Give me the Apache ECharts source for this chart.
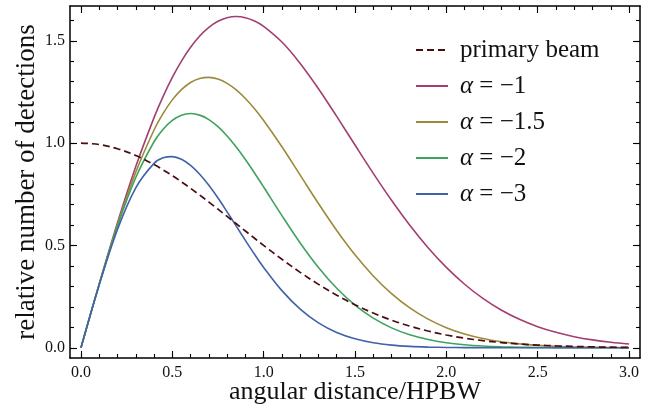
<!DOCTYPE html>
<html><head><meta charset="utf-8">
<script src="https://cdn.jsdelivr.net/npm/echarts@6/dist/echarts.min.js"></script>
<style>html,body{margin:0;padding:0;background:#fff}#c{width:656px;height:409px}</style>
</head><body><div id="c"></div>
<script>
const xs = [0,0.1,0.2,0.3,0.4,0.45,0.5,0.55,0.6,0.65,0.7,0.75,0.8,0.85,0.9,0.95,1.0,1.1,1.2,1.3,1.4,1.5,1.6,1.7,1.8,1.9,2.0,2.1,2.2,2.3,2.4,2.5,2.6,2.7,2.8,2.9,3.0];
const primaryBeam = [1,0.9931,0.9727,0.9395,0.8950,0.8690,0.8409,0.8108,0.7792,0.7461,0.7120,0.6771,0.6417,0.6060,0.5704,0.5350,0.5,0.4323,0.3686,0.3099,0.2570,0.2102,0.1696,0.1349,0.1058,0.0819,0.0625,0.0470,0.0349,0.0256,0.0185,0.0131,0.0092,0.0064,0.0044,0.0029,0.0020];
const alphaM1 = [0,0.3120,0.6111,0.8855,1.1247,1.2286,1.3209,1.4010,1.4687,1.5236,1.5658,1.5954,1.6128,1.6184,1.6127,1.5966,1.5708,1.4938,1.3894,1.2658,1.1305,0.9906,0.8524,0.7205,0.5985,0.4889,0.3927,0.3103,0.2414,0.1847,0.1391,0.1032,0.0754,0.0542,0.0384,0.0268,0.0184];
const alphaM15 = [0,0.3109,0.6027,0.8583,1.0641,1.1453,1.2113,1.2616,1.2964,1.3161,1.3213,1.3129,1.2920,1.2599,1.2180,1.1678,1.1107,0.9822,0.8436,0.7047,0.5731,0.4542,0.3510,0.2646,0.1947,0.1399,0.0982,0.0673,0.0451,0.0295,0.0189,0.0118,0.0072,0.0043,0.0025,0.0015,0.0008];
const alphaM2 = [0,0.3098,0.5944,0.8319,1.0067,1.0677,1.1107,1.1360,1.1444,1.1368,1.1149,1.0803,1.0350,0.9808,0.9199,0.8541,0.7854,0.6457,0.5121,0.3923,0.2905,0.2082,0.1446,0.0972,0.0633,0.0401,0.0245,0.0146,0.0084,0.0047,0.0026,0.0014,0.0007,0.0004,0.0002,0.0001,0.0000];
const alphaM3 = [0,0.3077,0.5782,0.7816,0.9010,0.9279,0.9340,0.9211,0.8916,0.8482,0.7938,0.7315,0.6641,0.5944,0.5247,0.4569,0.3927,0.2791,0.1888,0.1216,0.0747,0.0438,0.0245,0.0131,0.0067,0.0033,0.0015,0.0007,0.0003,0.0001,0,0,0,0,0,0,0];
const seriesNames = ['primary beam','α = −1','α = −1.5','α = −2','α = −3'];
const xMajorTicks = [0,0.5,1.0,1.5,2.0,2.5,3.0];
const xMinorTicks = [0,0.1,0.2,0.3,0.4,0.5,0.6,0.7,0.8,0.9,1.0,1.1,1.2,1.3,1.4,1.5,1.6,1.7,1.8,1.9,2.0,2.1,2.2,2.3,2.4,2.5,2.6,2.7,2.8,2.9,3.0];
const yMajorTicks = [0,0.5,1.0,1.5];
const yMinorTicks = [0,0.1,0.2,0.3,0.4,0.5,0.6,0.7,0.8,0.9,1.0,1.1,1.2,1.3,1.4,1.5,1.6];

const FONT = 'Liberation Serif';
const INK = '#111';
const colors = ['#4a0c10','#a33e72','#9c8a3b','#3fa35e','#4062a8'];

function mkAxis(kind, pos, ticks, len, opts) {
  const ax = {
    type: 'value', position: pos,
    min: kind === 'x' ? -0.06 : -0.05,
    max: kind === 'x' ? 3.06 : 1.67,
    axisLine: { show: !!opts.line, onZero: false, lineStyle: { color: '#000', width: 1.5 } },
    axisTick: { show: true, inside: true, length: len, customValues: ticks, lineStyle: { color: '#000', width: 1.1 } },
    axisLabel: { show: false },
    splitLine: { show: false },
    minorTick: { show: false }
  };
  if (opts.label) {
    ax.axisLabel = { show: true, customValues: ticks, formatter: v => v.toFixed(1), margin: kind === 'x' ? 7 : 5,
      fontFamily: FONT, fontSize: 16, color: INK };
  }
  if (opts.name) {
    ax.name = opts.name; ax.nameLocation = 'middle'; ax.nameGap = opts.gap;
    ax.nameMoveOverlap = false;
    ax.nameTextStyle = { fontFamily: FONT, fontSize: opts.fs, color: INK };
  }
  return ax;
}

const chart = echarts.init(document.getElementById('c'), null, { renderer: 'canvas' });
const dataOf = ys => xs.map((x, i) => [x, ys[i]]);
const allY = [primaryBeam, alphaM1, alphaM15, alphaM2, alphaM3];

chart.setOption({
  animation: false,
  backgroundColor: '#fff',
  grid: { left: 70, right: 16, top: 6, bottom: 51, containLabel: false, outerBoundsMode: 'none' },
  xAxis: [
    mkAxis('x', 'bottom', xMajorTicks, 7, { line: true, label: true, name: 'angular distance/HPBW', gap: 21, fs: 26 }),
    mkAxis('x', 'bottom', xMinorTicks, 4, {}),
    mkAxis('x', 'top', xMajorTicks, 7, { line: true }),
    mkAxis('x', 'top', xMinorTicks, 4, {})
  ],
  yAxis: [
    mkAxis('y', 'left', yMajorTicks, 7, { line: true, label: true, name: 'relative number of detections', gap: 30, fs: 27 }),
    mkAxis('y', 'left', yMinorTicks, 4, {}),
    mkAxis('y', 'right', yMajorTicks, 7, { line: true }),
    mkAxis('y', 'right', yMinorTicks, 4, {})
  ],
  legend: {
    orient: 'vertical', left: 415, top: 37.5, padding: 0,
    itemWidth: 32, itemHeight: 14, itemGap: 11,
    itemStyle: { opacity: 0 },
    data: seriesNames,
    formatter: n => n.replace('α', '{a|α}'),
    textStyle: { fontFamily: FONT, fontSize: 25, color: INK, lineHeight: 25, padding: [0, 0, 0, 7],
      rich: { a: { fontFamily: FONT, fontSize: 25, fontStyle: 'italic', color: INK } } }
  },
  series: seriesNames.map((name, i) => ({
    name, type: 'line', xAxisIndex: 0, yAxisIndex: 0,
    data: dataOf(allY[i]), smooth: 0.35, symbol: 'none', clip: true,
    z: i === 0 ? 5 : 2,
    lineStyle: { color: colors[i], width: i === 0 ? 1.7 : 1.6, type: i === 0 ? [7, 4] : 'solid' },
    itemStyle: { color: colors[i] }
  }))
});
</script></body></html>
